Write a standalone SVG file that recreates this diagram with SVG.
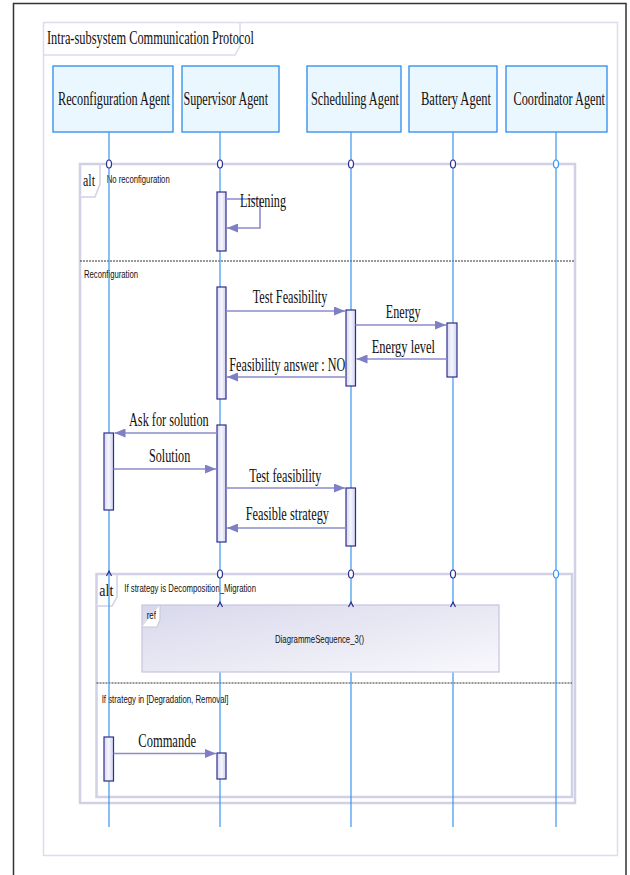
<svg xmlns="http://www.w3.org/2000/svg" width="630" height="875" viewBox="0 0 630 875">
<style>
.serif{font-family:"Liberation Serif","Times New Roman",serif;fill:#111}
.head{font-size:19.5px}
.msg{font-size:19px}
.small{font-family:"Liberation Sans",Arial,sans-serif;font-size:11px;fill:#111}
.frame{fill:none;stroke:#D0D0E6;stroke-width:2.5}
.tab{fill:#fff;stroke:#D0D0E6;stroke-width:1.5}
.sep{stroke:#333;stroke-width:1;stroke-dasharray:2 1}
.head-box{fill:#EBF7FE;stroke:#2A8CF0;stroke-width:1.3}
.life{stroke:#3A96F0;stroke-width:1.2}
.bar{fill:url(#barg);stroke:#2E2E8E;stroke-width:1.2}
.m{stroke:#8C8CCC;stroke-width:1.6;fill:none;marker-end:url(#ah)}
.mk{fill:#fff;stroke:#2E2E8E;stroke-width:1.2}
.mkb{fill:#fff;stroke:#3A96F0;stroke-width:1.2}
</style>
<defs>
<linearGradient id="barg" x1="0" y1="0" x2="1" y2="0">
<stop offset="0" stop-color="#D8D8F2"/>
<stop offset="0.5" stop-color="#F6F6FE"/>
<stop offset="1" stop-color="#D0D0EE"/>
</linearGradient>
<linearGradient id="refg" x1="0" y1="0" x2="1" y2="1">
<stop offset="0" stop-color="#D8D8EC"/>
<stop offset="1" stop-color="#F8F8FC"/>
</linearGradient>
<marker id="ah" markerUnits="userSpaceOnUse" markerWidth="12" markerHeight="9" refX="11" refY="4.5" orient="auto">
<path d="M0,0 L11,4.5 L0,9 z" fill="#7F7FC4"/>
</marker>
</defs>
<rect width="630" height="875" fill="#fff"/>
<rect x="13.5" y="3.5" width="612.5" height="900" fill="none" stroke="#333" stroke-width="1.5"/>

<g id="diagram-frame">
<rect x="43.5" y="22.5" width="574" height="833" fill="none" stroke="#DCDCEE" stroke-width="1.5"/>
<path d="M43.5,55 L235,55 L240,46 L240,22.5" fill="none" stroke="#DCDCEE" stroke-width="1.5"/>
<text class="serif head" x="47" y="44" textLength="207" lengthAdjust="spacingAndGlyphs">Intra-subsystem Communication Protocol</text>
</g>

<g id="alt-outer">
<rect class="frame" x="80" y="164" width="495" height="639"/>
<path class="tab" d="M80,197 L95,197 L100,184 L100,164"/>
<text class="serif" font-size="16" x="83" y="186" textLength="12" lengthAdjust="spacingAndGlyphs">alt</text>
<text class="small" x="106.7" y="182.5" textLength="63" lengthAdjust="spacingAndGlyphs">No reconfiguration</text>
<line class="sep" x1="80" y1="261" x2="574" y2="261"/>
<text class="small" x="84" y="278" textLength="54" lengthAdjust="spacingAndGlyphs">Reconfiguration</text>
</g>

<g id="alt-inner">
<rect class="frame" x="96.5" y="574" width="475.5" height="223"/>
<path class="tab" d="M96.5,606 L112,606 L117,597 L117,574"/>
<text class="serif" font-size="16" x="99.3" y="596" textLength="14" lengthAdjust="spacingAndGlyphs">alt</text>
<text class="small" x="124.3" y="592.3" textLength="131.7" lengthAdjust="spacingAndGlyphs">If strategy is Decomposition_Migration</text>
<line class="sep" x1="96.5" y1="683" x2="572" y2="683"/>
<text class="small" x="101.7" y="703" textLength="126.7" lengthAdjust="spacingAndGlyphs">If strategy in [Degradation, Removal]</text>
</g>

<g id="reconfiguration-agent">
<rect class="head-box" x="53" y="66" width="120" height="66"/>
<text class="serif head" x="58" y="105" textLength="112" lengthAdjust="spacingAndGlyphs">Reconfiguration Agent</text>
<line class="life" x1="109" y1="132" x2="109" y2="827"/>
</g>
<g id="supervisor-agent">
<rect class="head-box" x="182" y="66" width="97" height="66"/>
<text class="serif head" x="183.5" y="105" textLength="84.5" lengthAdjust="spacingAndGlyphs">Supervisor Agent</text>
<line class="life" x1="220" y1="132" x2="220" y2="827"/>
</g>
<g id="scheduling-agent">
<rect class="head-box" x="307" y="66" width="94" height="66"/>
<text class="serif head" x="311" y="105" textLength="88" lengthAdjust="spacingAndGlyphs">Scheduling Agent</text>
<line class="life" x1="351" y1="132" x2="351" y2="827"/>
</g>
<g id="battery-agent">
<rect class="head-box" x="409" y="66" width="88" height="66"/>
<text class="serif head" x="421" y="105" textLength="70" lengthAdjust="spacingAndGlyphs">Battery Agent</text>
<line class="life" x1="453" y1="132" x2="453" y2="827"/>
</g>
<g id="coordinator-agent">
<rect class="head-box" x="506" y="66" width="101" height="66"/>
<text class="serif head" x="513.5" y="105" textLength="91.5" lengthAdjust="spacingAndGlyphs">Coordinator Agent</text>
<line class="life" x1="556" y1="132" x2="556" y2="827"/>
</g>

<g id="frame-markers">
<ellipse class="mk" cx="109" cy="164" rx="2.5" ry="4"/>
<ellipse class="mk" cx="220" cy="164" rx="2.5" ry="4"/>
<ellipse class="mk" cx="351" cy="164" rx="2.5" ry="4"/>
<ellipse class="mk" cx="453" cy="164" rx="2.5" ry="4"/>
<ellipse class="mkb" cx="556" cy="164" rx="2.5" ry="4"/>
<path d="M106.5,576 L109,571 L111.5,576" fill="none" stroke="#2E2E8E" stroke-width="1.2"/>
<ellipse class="mk" cx="220" cy="574" rx="2.5" ry="4"/>
<ellipse class="mk" cx="351" cy="574" rx="2.5" ry="4"/>
<ellipse class="mk" cx="453" cy="574" rx="2.5" ry="4"/>
<ellipse class="mkb" cx="556" cy="574" rx="2.5" ry="4"/>
</g>

<g id="ref-diagramme-sequence-3">
<rect x="142" y="605" width="357" height="67" fill="url(#refg)" stroke="#C8C8E0" stroke-width="1.3"/>
<path d="M142,627 L157,627 L160,620 L160,605" fill="#fff" stroke="#C8C8E0" stroke-width="1.2"/>
<text class="small" x="146.7" y="619" textLength="9.3" lengthAdjust="spacingAndGlyphs">ref</text>
<text class="small" x="275" y="643" textLength="89" lengthAdjust="spacingAndGlyphs">DiagrammeSequence_3()</text>
<path d="M217.5,607 L220,602 L222.5,607" fill="none" stroke="#2E2E8E" stroke-width="1.2"/>
<path d="M348.5,607 L351,602 L353.5,607" fill="none" stroke="#2E2E8E" stroke-width="1.2"/>
<path d="M450.5,607 L453,602 L455.5,607" fill="none" stroke="#2E2E8E" stroke-width="1.2"/>
</g>

<g id="activations">
<rect class="bar" x="217" y="192" width="9" height="59"/>
<rect class="bar" x="217" y="287" width="9" height="112"/>
<rect class="bar" x="346" y="310" width="9.5" height="76"/>
<rect class="bar" x="447" y="323" width="10" height="54"/>
<rect class="bar" x="217" y="425" width="9" height="117"/>
<rect class="bar" x="104" y="433" width="9.5" height="77"/>
<rect class="bar" x="346" y="488" width="9.5" height="58"/>
<rect class="bar" x="104" y="737" width="9.5" height="44"/>
<rect class="bar" x="217" y="753" width="9" height="26"/>
</g>

<g id="connectors">
<path class="m" d="M226,199 L260,199 L260,228 L227,228"/>
<line class="m" x1="226" y1="311" x2="345" y2="311"/>
<line class="m" x1="355.5" y1="325" x2="446" y2="325"/>
<line class="m" x1="447" y1="359" x2="356.5" y2="359"/>
<line class="m" x1="346" y1="377" x2="227" y2="377"/>
<line class="m" x1="217" y1="433" x2="114.5" y2="433"/>
<line class="m" x1="113.5" y1="469" x2="216" y2="469"/>
<line class="m" x1="226" y1="488" x2="345" y2="488"/>
<line class="m" x1="346" y1="528" x2="227" y2="528"/>
<line class="m" x1="113.5" y1="753.5" x2="216" y2="753.5"/>
</g>

<g id="labels">
<text class="serif msg" x="240" y="207" textLength="46" lengthAdjust="spacingAndGlyphs">Listening</text>
<text class="serif msg" x="252.7" y="303" textLength="74.6" lengthAdjust="spacingAndGlyphs">Test Feasibility</text>
<text class="serif msg" x="385.7" y="318" textLength="35" lengthAdjust="spacingAndGlyphs">Energy</text>
<text class="serif msg" x="371.7" y="353" textLength="63.3" lengthAdjust="spacingAndGlyphs">Energy level</text>
<text class="serif msg" x="229.3" y="371" textLength="116" lengthAdjust="spacingAndGlyphs">Feasibility answer : NO</text>
<text class="serif msg" x="129" y="426" textLength="79.7" lengthAdjust="spacingAndGlyphs">Ask for solution</text>
<text class="serif msg" x="149" y="462" textLength="41.3" lengthAdjust="spacingAndGlyphs">Solution</text>
<text class="serif msg" x="249.3" y="481.7" textLength="72" lengthAdjust="spacingAndGlyphs">Test feasibility</text>
<text class="serif msg" x="245.7" y="520" textLength="83.3" lengthAdjust="spacingAndGlyphs">Feasible strategy</text>
<text class="serif msg" x="138.3" y="746.7" textLength="57.7" lengthAdjust="spacingAndGlyphs">Commande</text>
</g>
</svg>
